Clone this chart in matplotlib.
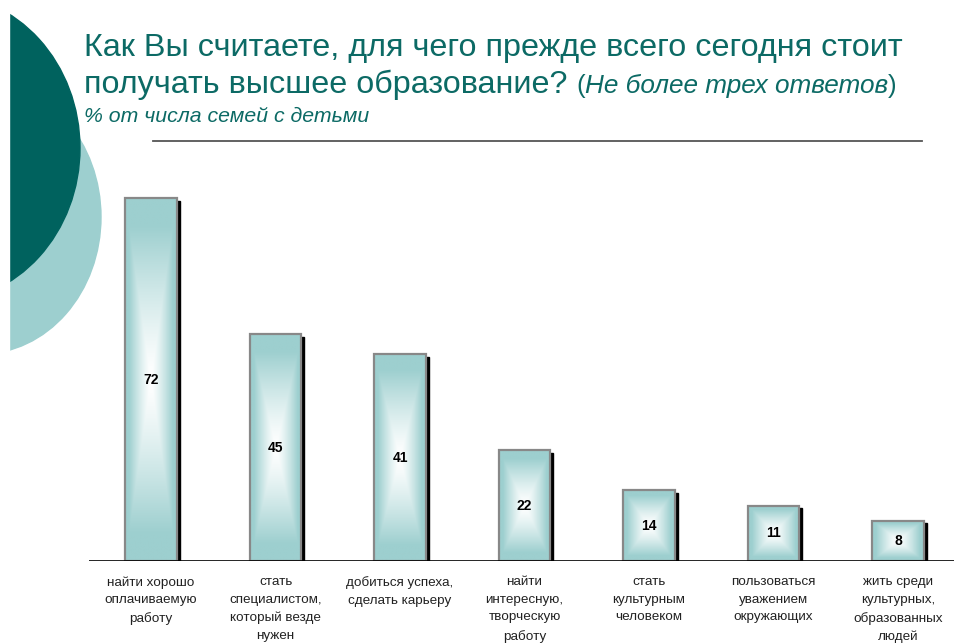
import numpy as np
import matplotlib.pyplot as plt
from matplotlib.patches import Ellipse, Rectangle
from matplotlib.colors import to_rgb

plt.rcParams['font.family'] = ['Liberation Sans', 'DejaVu Sans']

# data
categories = [
    "найти хорошо\nоплачиваемую\nработу",
    "стать\nспециалистом,\nкоторый везде\nнужен",
    "добиться успеха,\nсделать карьеру",
    "найти\nинтересную,\nтворческую\nработу",
    "стать\nкультурным\nчеловеком",
    "пользоваться\nуважением\nокружающих",
    "жить среди\nкультурных,\nобразованных\nлюдей",
]
values = [72, 45, 41, 22, 14, 11, 8]

title1 = "Как Вы считаете, для чего прежде всего сегодня стоит"
title2 = "получать высшее образование? "
note = "Не более трех ответов"
subtitle = "% от числа семей с детьми"

teal_dark = "#00625e"
teal_light = "#9dcfcf"
title_col = "#0c6a65"

W, H = 956, 644
fig = plt.figure(figsize=(W / 100, H / 100), dpi=100)

# decoration on the left
deco = fig.add_axes([0, 0, 1, 1])
deco.set_xlim(0, W)
deco.set_ylim(H, 0)
deco.axis("off")
deco.add_patch(Ellipse((-19, 217), 240, 274, color=teal_light, zorder=1))
deco.add_patch(Ellipse((-60, 148), 280, 308, color=teal_dark, zorder=2))
deco.add_patch(Rectangle((0, 0), 9, H, color="white", zorder=3))
deco.plot([153, 922], [141, 141], color="#555555", lw=1.3)

# title
t1 = fig.text(84 / W, 1 - 48 / H, title1, fontsize=23.3, color=title_col, va="center")
t2 = fig.text(84 / W, 1 - 85 / H, title2, fontsize=23.3, color=title_col, va="center")
fig.canvas.draw()
r = fig.canvas.get_renderer()
x = t2.get_window_extent(r).x1
p1 = fig.text(x / W, 1 - 86 / H, "(", fontsize=18.8, color=title_col, va="center")
x = p1.get_window_extent(r).x1
nt = fig.text(x / W, 1 - 86 / H, note, fontsize=18.8, style="italic", color=title_col, va="center")
x = nt.get_window_extent(r).x1
fig.text(x / W, 1 - 86 / H, ")", fontsize=18.8, color=title_col, va="center")
fig.text(84 / W, 1 - 117 / H, subtitle, fontsize=15.3, style="italic", color=title_col, va="center")

# chart
ax = fig.add_axes([88.75 / W, 83 / H, 865.3 / W, 403 / H])
ax.set_xlim(-0.5, 6.45)
ax.set_ylim(0, 80)
ax.axis("off")
ax.axhline(0, color="black", lw=1.2, zorder=5)

bw = 0.415
c0 = np.array(to_rgb(teal_light))
n = 200
u = np.linspace(-1, 1, n)
U, V = np.meshgrid(u, u)
T = np.clip(np.maximum(np.abs(U), np.abs(V)) / 0.85, 0, 1) ** 1.3
img = np.ones((n, n, 3)) * (1 - T[..., None]) + c0 * T[..., None]

for i, v in enumerate(values):
    x0 = i - bw / 2
    ax.add_patch(Rectangle((x0 + 0.025, -0.5), bw, v, color="black", zorder=2))
    ax.imshow(img, extent=(x0, x0 + bw, 0, v), aspect="auto", zorder=3, interpolation="bilinear")
    ax.add_patch(Rectangle((x0, 0), bw, v, fill=False, ec="#888888", lw=1.6, zorder=4))
    ax.text(i, v / 2, str(v), ha="center", va="center", fontsize=10, fontweight="bold", zorder=6)
    ax.text(i, -3.0, categories[i], ha="center", va="top", fontsize=9.7, color="#222222",
            linespacing=1.63)

ax.set_xlim(-0.5, 6.45)
ax.set_ylim(0, 80)

fig.savefig("out.png", dpi=100)
